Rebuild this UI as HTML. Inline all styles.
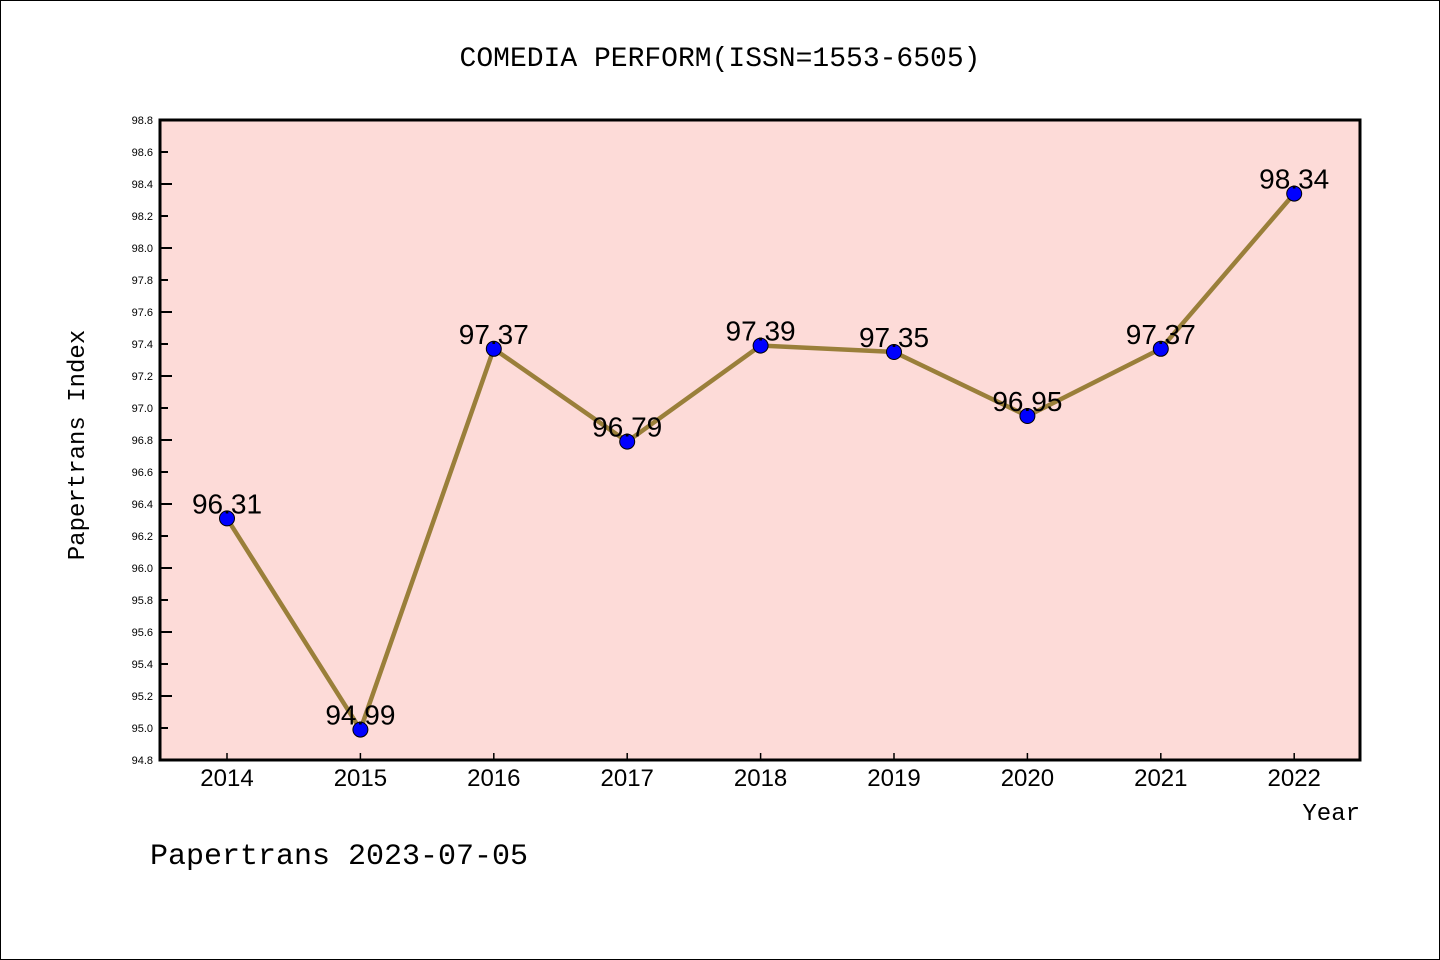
<!DOCTYPE html>
<html><head><meta charset="utf-8"><style>
html,body{margin:0;padding:0;background:#fff;}
svg{display:block;font-family:"Liberation Sans","WenQuanYi Zen Hei",sans-serif;}
</style></head><body>
<svg id="chart" width="1440" height="960" viewBox="0 0 1440 960">
<rect x="0.5" y="0.5" width="1439" height="959" fill="#fff" stroke="#000" stroke-width="1"/>
<text x="720" y="66" text-anchor="middle" font-size="28" font-family="'WenQuanYi Zen Hei','Liberation Mono',monospace">COMEDIA PERFORM(ISSN=1553-6505)</text>
<rect x="160" y="120" width="1200" height="640" fill="#fddbd8"/>
<g id="axes"></g>
<g id="series"></g>
<rect x="160" y="120" width="1200" height="640" fill="none" stroke="#000" stroke-width="3"/>
<text x="84" y="445" text-anchor="middle" font-size="24" transform="rotate(-90 84 445)" font-family="'WenQuanYi Zen Hei','Liberation Mono',monospace">Papertrans Index</text>
<text x="1360" y="820" text-anchor="end" font-size="24" font-family="'WenQuanYi Zen Hei','Liberation Mono',monospace">Year</text>
<text x="150" y="864" font-size="30" font-family="'WenQuanYi Zen Hei','Liberation Mono',monospace">Papertrans 2023-07-05</text>
</svg>
<script>
const years = [2014,2015,2016,2017,2018,2019,2020,2021,2022];
const values = [96.31,94.99,97.37,96.79,97.39,97.35,96.95,97.37,98.34];
const valueLabels = ["96.31","94.99","97.37","96.79","97.39","97.35","96.95","97.37","98.34"];
const yMin = 94.8, yMax = 98.8;
const NS = "http://www.w3.org/2000/svg";
function xPos(i){ return 227 + i*133.4; }
function yPos(v){ return 760 - (v - yMin)/(yMax - yMin)*640; }
function mk(tag, attrs, parent){ const e=document.createElementNS(NS,tag); for(const k in attrs) e.setAttribute(k,attrs[k]); parent.appendChild(e); return e; }
const axes = document.getElementById('axes');
const series = document.getElementById('series');
for(let k=0;k<=20;k++){
  const v = yMin + k*0.2;
  const y = yPos(v);
  const major = k%1===0;
  const t = mk('line',{x1:160,x2:160+(k%2===0?12:8),y1:y,y2:y,stroke:'#000','stroke-width':2},axes);
  
  
  if(k%1===0){
    const lb = mk('text',{x:153,y:y+4,'text-anchor':'end','font-size':11},axes);
    lb.textContent = v.toFixed(1);
    
    
  }
}
years.forEach((yr,i)=>{
  const x = xPos(i);
  const t = mk('line',{x1:x,x2:x,y1:760,y2:753,stroke:'#000','stroke-width':1.5},axes);
  
  
  const lb = mk('text',{x:x,y:786,'text-anchor':'middle','font-size':24,'font-family':"'WenQuanYi Zen Hei','Liberation Sans',sans-serif"},axes);
  lb.textContent = yr;
  
  
});
const pts = values.map((v,i)=>xPos(i)+','+yPos(v)).join(' ');
const line = mk('polyline',{points:pts,fill:'none',stroke:'#9a7f3a','stroke-width':4.5,'stroke-linejoin':'round'},series);


values.forEach((v,i)=>{
  const c = mk('circle',{cx:xPos(i),cy:yPos(v),r:7.5,fill:'#0000ff',stroke:'#000','stroke-width':1},series);
  
  
  const lb = mk('text',{x:xPos(i),y:yPos(v)-5,'text-anchor':'middle','font-size':28,'font-family':"'WenQuanYi Zen Hei','Liberation Sans',sans-serif"},series);
  lb.textContent = valueLabels[i];
  
  
});
</script>
</body></html>
